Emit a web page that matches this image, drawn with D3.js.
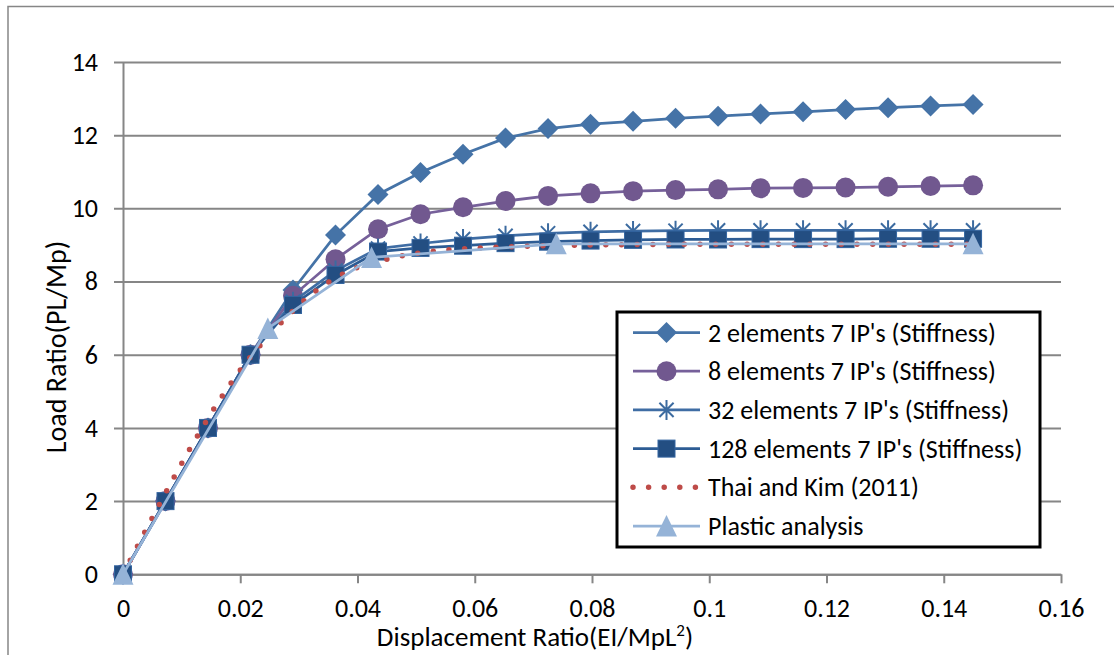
<!DOCTYPE html>
<html>
<head>
<meta charset="utf-8">
<script src="https://cdn.jsdelivr.net/npm/d3@7"></script>
<style>
  body { margin: 0; background: #fff; }
  svg { display: block; font-family: Carlito, Calibri, Lato, sans-serif; }
</style>
</head>
<body>
<svg id="chart" width="1114" height="655"></svg>
<script>
// displacement ratio steps used by the stiffness runs
var xSteps = [0, 0.00725, 0.0145, 0.02175, 0.029, 0.03625, 0.0435, 0.05075, 0.058, 0.06525,
  0.0725, 0.07975, 0.087, 0.09425, 0.1015, 0.10875, 0.116, 0.12325, 0.1305, 0.13775, 0.145]

var load2 = [0, 2, 4, 6, 7.77, 9.27, 10.38, 10.98, 11.48, 11.92, 12.18, 12.3, 12.38, 12.46,
  12.52, 12.58, 12.64, 12.7, 12.75, 12.8, 12.84]
var load8 = [0, 2, 4, 6, 7.61, 8.61, 9.43, 9.84, 10.03, 10.2, 10.34, 10.41, 10.47, 10.5,
  10.52, 10.55, 10.56, 10.57, 10.59, 10.61, 10.63]
var load32 = [0, 2, 4, 6, 7.45, 8.3, 8.9, 9.04, 9.16, 9.25, 9.32, 9.36, 9.38, 9.39,
  9.4, 9.4, 9.4, 9.4, 9.4, 9.4, 9.4]
var load128 = [0, 2, 4, 6, 7.36, 8.18, 8.82, 8.92, 8.98, 9.05, 9.09, 9.12, 9.14, 9.15,
  9.15, 9.16, 9.16, 9.16, 9.17, 9.17, 9.17]

var thaiX = [0, 0.0218, 0.0268, 0.0324, 0.0396, 0.0447, 0.0529, 0.066, 0.08, 0.1, 0.145]
var thaiY = [0, 5.95, 6.85, 7.68, 8.36, 8.6, 8.83, 8.95, 9.0, 9.02, 9.02]

var plasticX = [0, 0.0247, 0.0424, 0.0739, 0.145]
var plasticY = [0, 6.72, 8.66, 9.03, 9.03]

var seriesNames = ["2 elements 7 IP's (Stiffness)", "8 elements 7 IP's (Stiffness)",
  "32 elements 7 IP's (Stiffness)", "128 elements 7 IP's (Stiffness)",
  'Thai and Kim (2011)', 'Plastic analysis']

var xTicks = [0, 0.02, 0.04, 0.06, 0.08, 0.1, 0.12, 0.14, 0.16]
var xTickLabels = ['0', '0.02', '0.04', '0.06', '0.08', '0.1', '0.12', '0.14', '0.16']
var yTicks = [0, 2, 4, 6, 8, 10, 12, 14]

var svg = d3.select('#chart')
var plotLeft = 123, plotRight = 1061, plotTop = 62, plotBottom = 574.3
var gridColor = '#868686'
var fontStack = 'Carlito, Calibri, Lato, sans-serif'

var x = d3.scaleLinear().domain([0, 0.16]).range([plotLeft, plotRight])
var y = d3.scaleLinear().domain([0, 14]).range([plotBottom, plotTop])

// outer chart frame
svg.append('rect')
   .attr('x', 8).attr('y', 6.5)
   .attr('width', 1130).attr('height', 700)
   .attr('fill', 'none')
   .attr('stroke', gridColor)
   .attr('stroke-width', 1.5)

// y axis with gridlines
var yAxis = d3.axisLeft(y).tickValues(yTicks).tickSize(9).tickPadding(16).tickSizeOuter(0)
var gy = svg.append('g')
   .attr('transform', 'translate(' + plotLeft + ',0)')
   .call(yAxis)
gy.select('.domain').attr('stroke', gridColor).attr('stroke-width', 2)
gy.selectAll('.tick line')
  .attr('x1', plotRight - plotLeft)
  .attr('x2', -9)
  .attr('stroke', gridColor)
  .attr('stroke-width', 2)
gy.selectAll('.tick text')
  .attr('font-size', 26)
  .attr('fill', '#000')
  .attr('font-family', fontStack)

// x axis
var xAxis = d3.axisBottom(x).tickValues(xTicks)
   .tickFormat(function (d, i) { return xTickLabels[i] })
   .tickSize(9).tickPadding(15).tickSizeOuter(0)
var gx = svg.append('g')
   .attr('transform', 'translate(0,' + plotBottom + ')')
   .call(xAxis)
gx.select('.domain').attr('stroke', gridColor).attr('stroke-width', 2)
gx.selectAll('.tick line').attr('stroke', gridColor).attr('stroke-width', 2)
gx.selectAll('.tick text')
  .attr('font-size', 26)
  .attr('fill', '#000')
  .attr('font-family', fontStack)

// axis titles
svg.append('text')
   .attr('transform', 'translate(66,347) rotate(-90)')
   .attr('text-anchor', 'middle')
   .attr('font-size', 28)
   .text('Load Ratio(PL/Mp)')

var xt = svg.append('text')
   .attr('x', 535).attr('y', 646)
   .attr('text-anchor', 'middle')
   .attr('font-size', 27)
xt.append('tspan').text('Displacement Ratio(EI/MpL')
xt.append('tspan').attr('font-size', 17).attr('dy', -10).text('2')
xt.append('tspan').attr('dy', 10).text(')')

// marker shapes
function marker(g, type, cx, cy, c) {
  if (type === 'diamond') {
    var r = 10.5
    g.append('path')
     .attr('d', 'M' + cx + ',' + (cy - r) + 'L' + (cx + r) + ',' + cy + 'L' + cx + ',' + (cy + r) + 'L' + (cx - r) + ',' + cy + 'Z')
     .attr('fill', c.fill)
  } else if (type === 'circle') {
    g.append('circle').attr('cx', cx).attr('cy', cy).attr('r', 10).attr('fill', c.fill)
  } else if (type === 'star') {
    var a = 10, b = 7.1
    g.append('path')
     .attr('d', 'M' + cx + ',' + (cy - a) + 'V' + (cy + a) +
       'M' + (cx - b) + ',' + (cy - b) + 'L' + (cx + b) + ',' + (cy + b) +
       'M' + (cx + b) + ',' + (cy - b) + 'L' + (cx - b) + ',' + (cy + b))
     .attr('stroke', c.fill).attr('stroke-width', 2).attr('fill', 'none')
  } else if (type === 'square') {
    g.append('rect').attr('x', cx - 8.5).attr('y', cy - 8.5)
     .attr('width', 17).attr('height', 17)
     .attr('fill', c.fill).attr('stroke', '#3465a0').attr('stroke-width', 1)
  } else if (type === 'triangle') {
    g.append('path')
     .attr('d', 'M' + cx + ',' + (cy - 11) + 'L' + (cx + 10.5) + ',' + (cy + 10.5) + 'L' + (cx - 10.5) + ',' + (cy + 10.5) + 'Z')
     .attr('fill', c.fill)
  }
}

function zip(xs, ys) {
  return xs.map(function (d, i) { return [d, ys[i]] })
}

var series = [
  { name: seriesNames[0], pts: zip(xSteps, load2), line: '#4573a7', fill: '#4573a7', type: 'diamond' },
  { name: seriesNames[1], pts: zip(xSteps, load8), line: '#76609a', fill: '#71588f', type: 'circle' },
  { name: seriesNames[2], pts: zip(xSteps, load32), line: '#3f6da4', fill: '#3c6ba0', type: 'star' },
  { name: seriesNames[3], pts: zip(xSteps, load128), line: '#2d5c94', fill: '#234e82', type: 'square' },
  { name: seriesNames[4], pts: zip(thaiX, thaiY), line: '#be4b48', fill: '#be4b48', type: 'dots' },
  { name: seriesNames[5], pts: zip(plasticX, plasticY), line: '#95b3d7', fill: '#95b3d7', type: 'triangle' }
]

var line = d3.line()
  .x(function (d) { return x(d[0]) })
  .y(function (d) { return y(d[1]) })
var smooth = d3.line()
  .x(function (d) { return x(d[0]) })
  .y(function (d) { return y(d[1]) })
  .curve(d3.curveMonotoneX)

var plot = svg.append('g')
series.forEach(function (s) {
  var g = plot.append('g')
  if (s.type === 'dots') {
    g.append('path')
     .attr('d', smooth(s.pts))
     .attr('fill', 'none')
     .attr('stroke', s.line)
     .attr('stroke-width', 5.5)
     .attr('stroke-linecap', 'round')
     .attr('stroke-dasharray', '0 15.7')
    return
  }
  g.append('path')
   .attr('d', line(s.pts))
   .attr('fill', 'none')
   .attr('stroke', s.line)
   .attr('stroke-width', 2.75)
  s.pts.forEach(function (p) {
    marker(g, s.type, x(p[0]), y(p[1]), s)
  })
})

// legend
var lg = svg.append('g')
lg.append('rect')
  .attr('x', 617).attr('y', 312)
  .attr('width', 423).attr('height', 235)
  .attr('fill', '#fff')
  .attr('stroke', '#000')
  .attr('stroke-width', 3)

series.forEach(function (s, i) {
  var cy = 332.5 + i * 38.7
  var row = lg.append('g')
  if (s.type === 'dots') {
    row.append('path')
       .attr('d', 'M633,' + cy + 'H700')
       .attr('stroke', s.line)
       .attr('stroke-width', 5.5)
       .attr('stroke-linecap', 'round')
       .attr('stroke-dasharray', '0 15.6')
  } else {
    row.append('path')
       .attr('d', 'M633,' + cy + 'H700')
       .attr('stroke', s.line)
       .attr('stroke-width', 2.75)
    marker(row, s.type, 666.5, cy, s)
  }
  row.append('text')
     .attr('x', 708).attr('y', cy)
     .attr('dy', '0.35em')
     .attr('font-size', 26)
     .text(s.name)
})
</script>
</body>
</html>
